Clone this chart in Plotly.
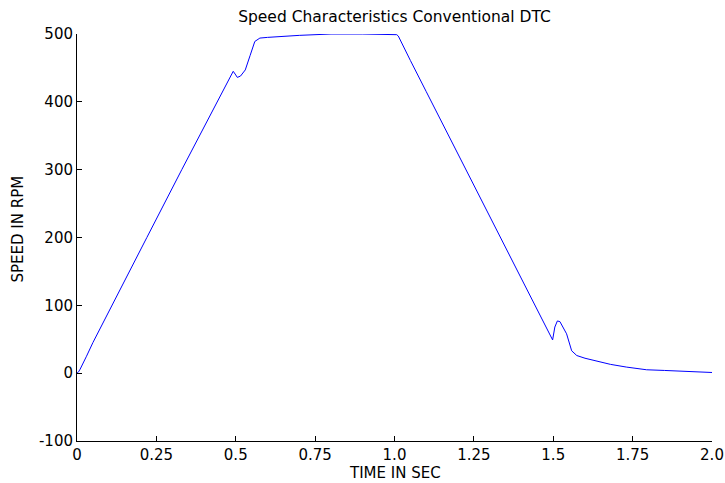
import plotly.graph_objects as go

time_s = [0, 0.005, 0.01, 0.02, 0.03, 0.05, 0.104, 0.22, 0.33, 0.44, 0.485, 0.492, 0.498,
          0.505, 0.515, 0.53, 0.545, 0.56, 0.576, 0.6, 0.7, 0.8, 0.9, 0.998, 1.007,
          1.012, 1.02, 1.05, 1.1, 1.2, 1.3, 1.4, 1.49, 1.498, 1.505, 1.513, 1.521, 1.53,
          1.542, 1.558, 1.574, 1.6, 1.626, 1.68, 1.73, 1.794, 1.85, 1.9, 1.95, 2.0]
speed_rpm = [0, 2, 6, 15, 25, 45, 95, 200, 300, 400, 440, 445, 441,
             436, 438, 447, 468, 489, 494, 495, 498, 500, 500, 500, 499,
             497, 489, 461, 415, 323, 231, 139, 56, 49, 68, 77, 76, 69,
             58, 33, 26, 22, 19, 13, 9, 5, 4, 3, 2, 1]

x_ticks = [0, 0.25, 0.5, 0.75, 1.0, 1.25, 1.5, 1.75, 2.0]
x_tick_labels = ["0", "0.25", "0.5", "0.75", "1.0", "1.25", "1.5", "1.75", "2.0"]
y_ticks = [-100, 0, 100, 200, 300, 400, 500]
y_tick_labels = ["-100", "0", "100", "200", "300", "400", "500"]

# plot area in pixels
L, R, T, B = 77, 712, 34, 441
W, H = 725, 483

fig = go.Figure()
fig.add_trace(go.Scatter(x=time_s, y=speed_rpm, mode="lines",
                         line=dict(color="rgb(0,0,255)", width=1)))

font = "DejaVu Sans, Liberation Sans, Arial, sans-serif"
fig.update_layout(
    width=W, height=H,
    margin=dict(l=L, r=W - R, t=T, b=H - B, autoexpand=False),
    plot_bgcolor="white", paper_bgcolor="white",
    showlegend=False,
    font=dict(family=font, size=15, color="black"),
    title=dict(text="Speed Characteristics Conventional DTC",
               x=0.5, xanchor="center", xref="paper",
               y=1 - 17 / H, yanchor="middle",
               font=dict(family=font, size=15.5, color="black")),
    annotations=[
        dict(text="TIME IN SEC", xref="paper", yref="paper",
             x=0.5, y=(B - 473.5) / (B - T), xanchor="center", yanchor="middle",
             showarrow=False, font=dict(family=font, size=15, color="black")),
        dict(text="SPEED IN RPM", xref="paper", yref="paper",
             x=(17.5 - L) / (R - L), y=(B - 229) / (B - T), textangle=-90,
             xanchor="center", yanchor="middle",
             showarrow=False, font=dict(family=font, size=15, color="black")),
    ],
)
fig.update_xaxes(range=[0, 2], tickvals=x_ticks, ticktext=x_tick_labels,
                 automargin=False,
                 showgrid=False, zeroline=False, showline=True, linecolor="black",
                 linewidth=1, ticks="inside", ticklen=5, tickcolor="black",
                 tickfont=dict(size=15))
fig.update_yaxes(range=[-100, 500], tickvals=y_ticks, ticktext=y_tick_labels,
                 automargin=False,
                 showgrid=False, zeroline=False, showline=True, linecolor="black",
                 linewidth=1, ticks="inside", ticklen=5, tickcolor="black",
                 tickfont=dict(size=15))

fig.write_html("out.html")
